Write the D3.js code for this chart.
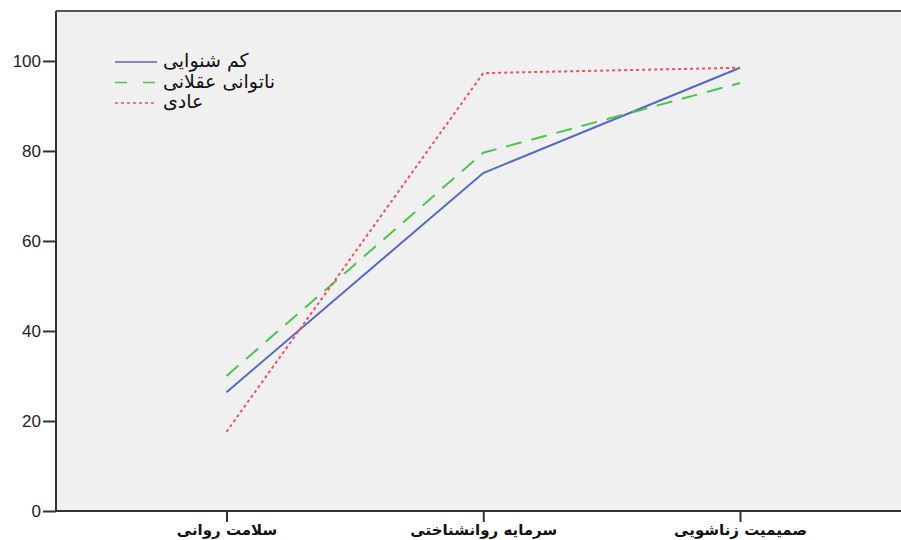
<!DOCTYPE html>
<html>
<head>
<meta charset="utf-8">
<script src="https://cdn.jsdelivr.net/npm/d3@7"></script>
<style>
  body { margin: 0; background: #fff; }
  svg text { font-family: "Liberation Sans", Arial, sans-serif; }
</style>
</head>
<body>
<svg id="chart" width="901" height="540"></svg>
<script>
// categories (x axis) and series values
const categories = ["سلامت روانی", "سرمایه روانشناختی", "صمیمیت زناشویی"];
const hearingImpaired = [26.4, 75.1, 98.5];   // کم شنوایی
const intellectual = [30.0, 79.6, 95.1];      // ناتوانی عقلانی
const normal = [17.6, 97.3, 98.5];            // عادی
const yTicks = [0, 20, 40, 60, 80, 100];

const series = [
    {name: "کم شنوایی", values: hearingImpaired, color: "#5468c4", dash: null},
    {name: "ناتوانی عقلانی", values: intellectual, color: "#4fc24f", dash: "16,10"},
    {name: "عادی", values: normal, color: "#f0505a", dash: "3,3"}
];

const svg = d3.select("#chart");
const plot = {left: 56, top: 11, bottom: 511, right: 901};

const x = d3.scalePoint()
    .domain(categories)
    .range([226.5, 740]);

const y = d3.scaleLinear()
    .domain([0, 111.1])
    .range([plot.bottom, plot.top]);

// plot background
svg.append("rect")
    .attr("x", plot.left).attr("y", plot.top)
    .attr("width", plot.right - plot.left).attr("height", plot.bottom - plot.top)
    .attr("fill", "#f0f0f0");

// top border
svg.append("line")
    .attr("x1", plot.left).attr("x2", plot.right)
    .attr("y1", plot.top).attr("y2", plot.top)
    .attr("stroke", "#555").attr("stroke-width", 2);

const yAxis = svg.append("g")
    .attr("transform", "translate(" + plot.left + ",0)")
    .call(d3.axisLeft(y).tickValues(yTicks).tickSize(13).tickPadding(2).tickFormat(d3.format("d")));
yAxis.select(".domain").attr("d", "M0," + plot.top + "V" + plot.bottom).attr("stroke", "#333").attr("stroke-width", 2);
yAxis.selectAll(".tick line").attr("stroke", "#333").attr("stroke-width", 2);
yAxis.selectAll(".tick text")
    .attr("font-size", 17).attr("fill", "#222")
    .style("font-family", "'Liberation Sans', Arial, sans-serif");

const xAxis = svg.append("g")
    .attr("transform", "translate(0," + plot.bottom + ")")
    .call(d3.axisBottom(x).tickSize(11).tickPadding(2));
xAxis.select(".domain").attr("d", "M" + plot.left + ",0H" + plot.right).attr("stroke", "#333").attr("stroke-width", 2);
xAxis.selectAll(".tick line").attr("stroke", "#333").attr("stroke-width", 2);
xAxis.selectAll(".tick text")
    .attr("font-size", 15).attr("fill", "#111")
    .attr("direction", "rtl")
    .style("font-family", "'DejaVu Sans', sans-serif")
    .style("font-weight", "bold");

const line = d3.line()
    .x((d, i) => x(categories[i]))
    .y(d => y(d));

series.forEach(s => {
    svg.append("path")
        .datum(s.values)
        .attr("fill", "none")
        .attr("stroke", s.color)
        .attr("stroke-width", 2)
        .attr("stroke-dasharray", s.dash)
        .attr("d", line);
});

// legend
const legend = svg.append("g").attr("transform", "translate(115,62)");
series.forEach((s, i) => {
    const g = legend.append("g").attr("transform", "translate(0," + (i * 20.5) + ")");
    g.append("line")
        .attr("x1", 0).attr("x2", 42)
        .attr("y1", 0).attr("y2", 0)
        .attr("stroke", s.color)
        .attr("stroke-width", 1.5)
        .attr("stroke-dasharray", s.dash === "16,10" ? "12,16" : s.dash);
    g.append("text")
        .attr("x", 48).attr("y", 5)
        .attr("font-size", 19)
        .attr("fill", "#111")
        .attr("text-anchor", "end")
        .attr("direction", "rtl")
        .style("font-family", "'DejaVu Sans', sans-serif")
        .text(s.name);
});
</script>
</body>
</html>
